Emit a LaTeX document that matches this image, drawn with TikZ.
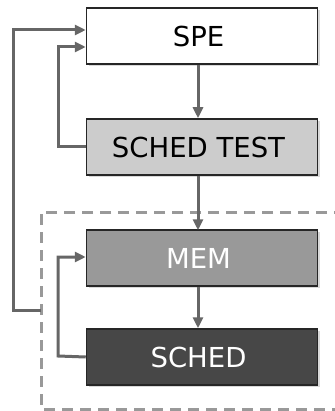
\documentclass[tikz,border=0pt]{standalone}
\usepackage{fontspec}
\setmainfont{DejaVu Sans}
\usetikzlibrary{arrows.meta,shadows}
\definecolor{linegray}{HTML}{666666}
\definecolor{dashgray}{HTML}{999999}
\begin{document}
\begin{tikzpicture}[x=1pt,y=-1pt,
  blk/.style={draw=black!85,line width=1.5pt,minimum width=231pt,minimum height=56pt,inner sep=0pt,
    font=\fontsize{27.5}{32}\selectfont,
    drop shadow={shadow xshift=2pt,shadow yshift=-2pt,opacity=0.15,fill=black}},
  conn/.style={draw=linegray,line width=3pt,-{Triangle[length=11pt,width=10pt]}},
  grpline/.style={draw=dashgray,line width=3pt,dash pattern=on 11pt off 7pt}]
\useasboundingbox (0,0) rectangle (334,411);
\node[blk,fill=white] (spe) at (202,36) {\kern-7pt SPE};
\node[blk,fill=black!20] (st) at (202,147) {\kern-7pt SCHED TEST};
\node[blk,fill=black!40,text=white] (mem) at (202,258) {\kern-7pt MEM};
\node[blk,fill=black!72,text=white] (sched) at (202,357) {\kern-7pt SCHED};
\draw[grpline] (345,212) -- (41,212) -- (41,409) -- (345,409);
\coordinate (gin) at (41,310);
\draw[conn] ([xshift=-4pt]spe.south) -- ([xshift=-4pt]st.north);
\draw[conn] ([xshift=-4pt]st.south) -- ([xshift=-4pt,yshift=-1pt]mem.north);
\draw[conn] ([xshift=-4pt]mem.south) -- ([xshift=-4pt]sched.north);
\draw[conn] (st.west) -- (58,147) -- (58,47) -- (spe.west |- 0,47);
\draw[conn] (sched.west) -- (58,356) -- (58,257) -- (mem.west |- 0,257);
\draw[conn] (gin) -- (13,310) -- (13,30) -- (spe.west |- 0,30);
\end{tikzpicture}
\end{document}
